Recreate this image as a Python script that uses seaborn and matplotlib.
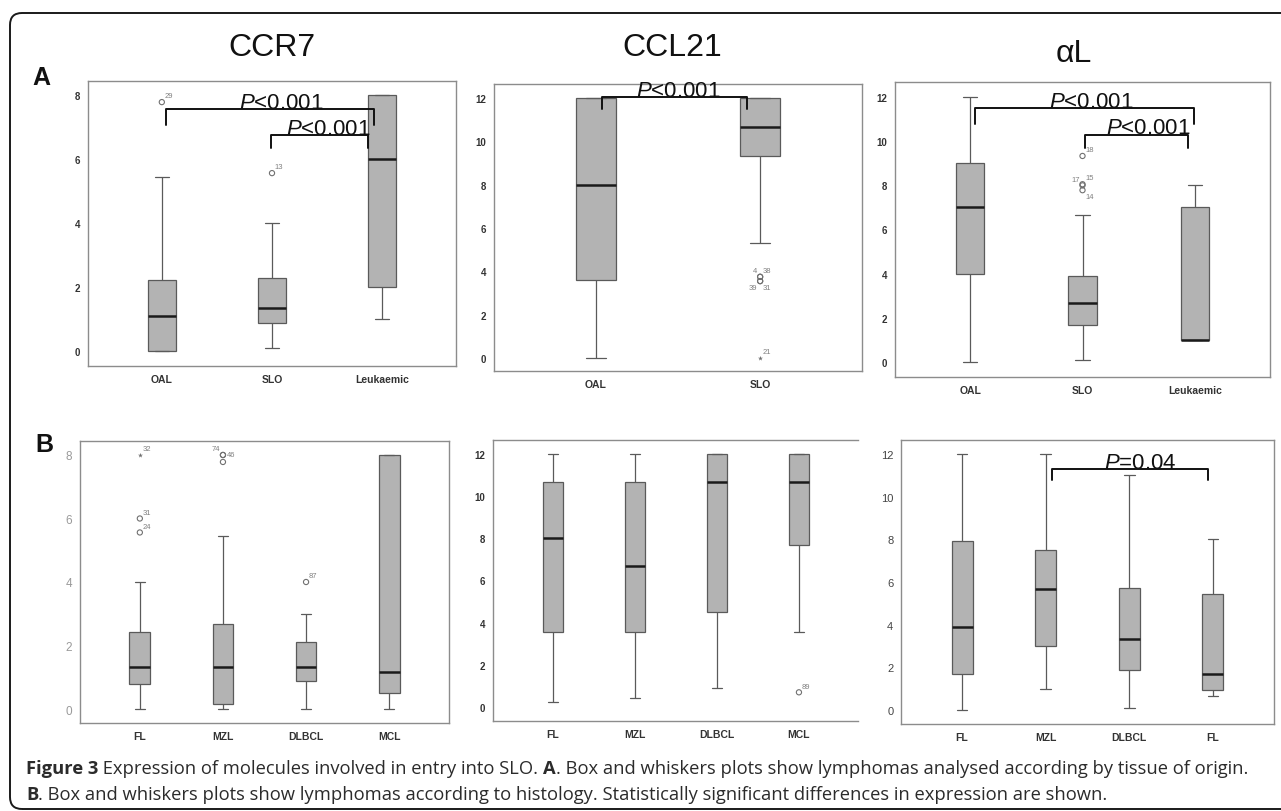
import numpy as np
import pandas as pd
import seaborn as sns
import matplotlib.pyplot as plt
from matplotlib.patches import FancyBboxPatch

# five numbers per box: lower whisker, Q1, median, Q3, upper whisker
origin_groups = ['OAL', 'SLO', 'Leukaemic']
origin_groups_ccl21 = ['OAL', 'SLO']
histo_groups = ['FL', 'MZL', 'DLBCL', 'MCL']
histo_groups_al = ['FL', 'MZL', 'DLBCL', 'FL']

ccr7_origin = [[0, 0, 1.1, 2.22, 5.44], [0.1, 0.88, 1.34, 2.28, 4.0], [1, 2, 6, 8, 8]]
ccl21_origin = [[0, 3.58, 8, 12, 12], [5.33, 9.33, 10.67, 12, 12]]
al_origin = [[0, 4, 7, 9, 12], [0.1, 1.67, 2.67, 3.9, 6.67], [1, 1, 1, 7, 8]]
ccr7_histo = [[0, 0.78, 1.33, 2.44, 4], [0, 0.17, 1.33, 2.67, 5.44],
              [0, 0.89, 1.33, 2.11, 3], [0, 0.5, 1.17, 8, 8]]
ccl21_histo = [[0.22, 3.56, 8, 10.67, 12], [0.44, 3.56, 6.67, 10.67, 12],
               [0.89, 4.5, 10.67, 12, 12], [3.56, 7.67, 10.67, 12, 12]]
al_histo = [[0, 1.67, 3.9, 7.9, 12], [1, 3, 5.67, 7.5, 12],
            [0.11, 1.89, 3.33, 5.72, 11], [0.67, 0.94, 1.67, 5.44, 8]]

# outliers: (box index, value, case number, marker, label side)
ccr7_origin_out = [(0, 7.78, '29', 'o', 'ur'), (1, 5.56, '13', 'o', 'ur')]
ccl21_origin_out = [(1, 3.75, '4', 'o', 'ul'), (1, 3.75, '38', 'o', 'ur'),
                    (1, 3.55, '39', 'o', 'll'), (1, 3.55, '31', 'o', 'lr'),
                    (1, 0.0, '21', '*', 'ur')]
al_origin_out = [(1, 9.33, '18', 'o', 'ur'), (1, 8.05, '15', 'o', 'ur'),
                 (1, 8.0, '17', 'o', 'ul'), (1, 7.78, '14', 'o', 'lr')]
ccr7_histo_out = [(0, 8.0, '32', '*', 'ur'), (0, 6.0, '31', 'o', 'ur'), (0, 5.56, '24', 'o', 'ur'),
                  (1, 8.0, '74', 'o', 'ul'), (1, 8.0, '46', 'o', 'r'), (1, 7.78, '', 'o', 'ur'),
                  (2, 4.0, '87', 'o', 'ur')]
ccl21_histo_out = [(3, 0.7, '89', 'o', 'ur')]
al_histo_out = []

# significance brackets: (x start, x end, bracket top, leg bottom, text x, text)
ccr7_origin_sig = [(0.04, 1.93, 7.56, 7.06, 1.08, '<0.001'), (0.99, 1.87, 6.75, 6.34, 1.51, '<0.001')]
ccl21_origin_sig = [(0.04, 0.92, 12.05, 11.5, 0.50, '<0.001')]
al_origin_sig = [(0.04, 1.99, 11.5, 10.78, 1.08, '<0.001'), (1.02, 1.94, 10.3, 9.7, 1.59, '<0.001')]
ccr7_histo_sig = []
ccl21_histo_sig = []
al_histo_sig = [(1.07, 2.94, 11.3, 10.78, 2.13, '=0.04')]

titles = ['CCR7', 'CCL21', 'αL']

sns.set_style('white')
plt.rcParams['font.family'] = ['Liberation Sans', 'DejaVu Sans']
plt.rcParams['mathtext.fontset'] = 'custom'
plt.rcParams['mathtext.it'] = 'Liberation Sans:italic'
plt.rcParams['mathtext.rm'] = 'Liberation Sans'

W, H = 1281, 812
fig = plt.figure(figsize=(W / 100, H / 100), dpi=100)

BOX = '#b3b3b3'
EDGE = '#5a5a5a'
FRAME = '#8c8c8c'

offsets = {'ur': (2, 2, 'left', 'bottom'), 'ul': (-2, 2, 'right', 'bottom'),
           'lr': (2, -2, 'left', 'top'), 'll': (-2, -2, 'right', 'top'),
           'r': (3, 0, 'left', 'center')}


def draw_panel(rect, groups, stats, outs, sigs, ylim, xlim, yticks,
               width=0.25, ystyle='bold'):
    l, t, r, b = rect
    ax = fig.add_axes([l / W, 1 - b / H, (r - l) / W, (b - t) / H])
    keys = [f'{g}_{i}' for i, g in enumerate(groups)]
    df = pd.DataFrame({'group': np.repeat(keys, 5), 'value': np.ravel(stats)})
    sns.boxplot(data=df, x='group', y='value', order=keys, whis=(0, 100),
                width=width, color=BOX, linecolor=EDGE, linewidth=0.9,
                saturation=1, showfliers=False,
                medianprops=dict(color='#1a1a1a', linewidth=1.8), ax=ax)
    for i, v, lab, m, side in outs:
        if m == 'o':
            ax.scatter(i, v, s=14, facecolors='none', edgecolors='#707070',
                       linewidths=0.8, zorder=4, clip_on=False)
        else:
            ax.scatter(i, v, s=14, marker='*', color='#707070', linewidths=0,
                       zorder=4, clip_on=False)
        if lab:
            dx, dy, ha, va = offsets[side]
            ax.annotate(lab, (i, v), xytext=(dx, dy), textcoords='offset points',
                        ha=ha, va=va, fontsize=5.5, color='#808080')
    for x0, x1, top, leg, tx, txt in sigs:
        ax.plot([x0, x0, x1, x1], [leg, top, top, leg], color='#111111',
                lw=1.4, solid_joinstyle='round', clip_on=False, zorder=5)
        ax.annotate(r'$\mathit{P}$' + txt, (tx, top), xytext=(0, 1),
                    textcoords='offset points', ha='center', va='baseline',
                    fontsize=16, color='#111111', annotation_clip=False, zorder=6)
    ax.set_xlim(*xlim)
    ax.set_ylim(*ylim)
    ax.set_yticks(yticks)
    ax.set_xticks(range(len(groups)))
    ax.set_xticklabels(groups)
    ax.set_xlabel('')
    ax.set_ylabel('')
    for s in ax.spines.values():
        s.set_color(FRAME)
        s.set_linewidth(1.0)
    ax.tick_params(axis='both', direction='out', length=4, width=0.8,
                   color=FRAME, pad=1.5)
    ax.tick_params(axis='x', labelsize=7.5, labelcolor='#333333')
    for lab in ax.get_xticklabels():
        lab.set_fontweight('bold')
    if ystyle == 'light':
        ax.tick_params(axis='y', labelsize=8.5, labelcolor='#9a9a9a')
    elif ystyle == 'plain':
        ax.tick_params(axis='y', labelsize=8, labelcolor='#444444')
    else:
        ax.tick_params(axis='y', labelsize=7, labelcolor='#333333')
        for lab in ax.get_yticklabels():
            lab.set_fontweight('bold')
    return ax


draw_panel((88, 82, 456, 367), origin_groups, ccr7_origin, ccr7_origin_out,
           ccr7_origin_sig, (-0.47, 8.44), (-0.67, 2.67), [0, 2, 4, 6, 8])
draw_panel((494, 85, 862, 372), origin_groups_ccl21, ccl21_origin, ccl21_origin_out,
           ccl21_origin_sig, (-0.6, 12.65), (-0.62, 1.62), [0, 2, 4, 6, 8, 10, 12],
           width=0.245)
draw_panel((895, 83, 1270, 378), origin_groups, al_origin, al_origin_out,
           al_origin_sig, (-0.68, 12.68), (-0.67, 2.67), [0, 2, 4, 6, 8, 10, 12])
draw_panel((80, 442, 449, 724), histo_groups, ccr7_histo, ccr7_histo_out,
           ccr7_histo_sig, (-0.44, 8.44), (-0.72, 3.72), [0, 2, 4, 6, 8], ystyle='light')
axb2 = draw_panel((493, 441, 858, 722), histo_groups, ccl21_histo, ccl21_histo_out,
                  ccl21_histo_sig, (-0.66, 12.66), (-0.73, 3.72), [0, 2, 4, 6, 8, 10, 12])
axb2.spines['right'].set_visible(False)
draw_panel((901, 441, 1274, 725), histo_groups_al, al_histo, al_histo_out,
           al_histo_sig, (-0.66, 12.66), (-0.73, 3.73), [0, 2, 4, 6, 8, 10, 12],
           ystyle='plain')

# column titles and row letters
for x, y, s in [(272, 56, titles[0]), (672, 56, titles[1]), (1074, 62, titles[2])]:
    fig.text(x / W, 1 - y / H, s, ha='center', va='baseline', fontsize=23, color='#111111')
fig.text(41 / W, 1 - 85 / H, 'A', ha='center', va='baseline', fontsize=18,
         fontweight='bold', color='#111111')
fig.text(44 / W, 1 - 452 / H, 'B', ha='center', va='baseline', fontsize=18,
         fontweight='bold', color='#111111')

# outer rounded frame
frame = FancyBboxPatch((0.10, 0.02), 13.0, 7.96, boxstyle='round,pad=0,rounding_size=0.12',
                       transform=fig.dpi_scale_trans, fill=False, edgecolor='#1a1a1a', lw=1.4)
fig.patches.append(frame)

# caption
renderer = fig.canvas.get_renderer()
cap_lines = [
    (774, [('Figure 3', 'bold'), (' Expression of molecules involved in entry into SLO. ', 'normal'),
           ('A', 'bold'), ('. Box and whiskers plots show lymphomas analysed according by tissue of origin.', 'normal')]),
    (800, [('B', 'bold'), ('. Box and whiskers plots show lymphomas according to histology. '
                          'Statistically significant differences in expression are shown.', 'normal')]),
]
for y, segs in cap_lines:
    x = 26
    for s, wgt in segs:
        t = fig.text(x / W, 1 - y / H, s, ha='left', va='baseline', fontsize=13.2,
                     fontweight=wgt, family=['Open Sans', 'DejaVu Sans'], color='#2b2b2b')
        bb = t.get_window_extent(renderer)
        x = bb.x1

fig.savefig('out.png', dpi=100)
